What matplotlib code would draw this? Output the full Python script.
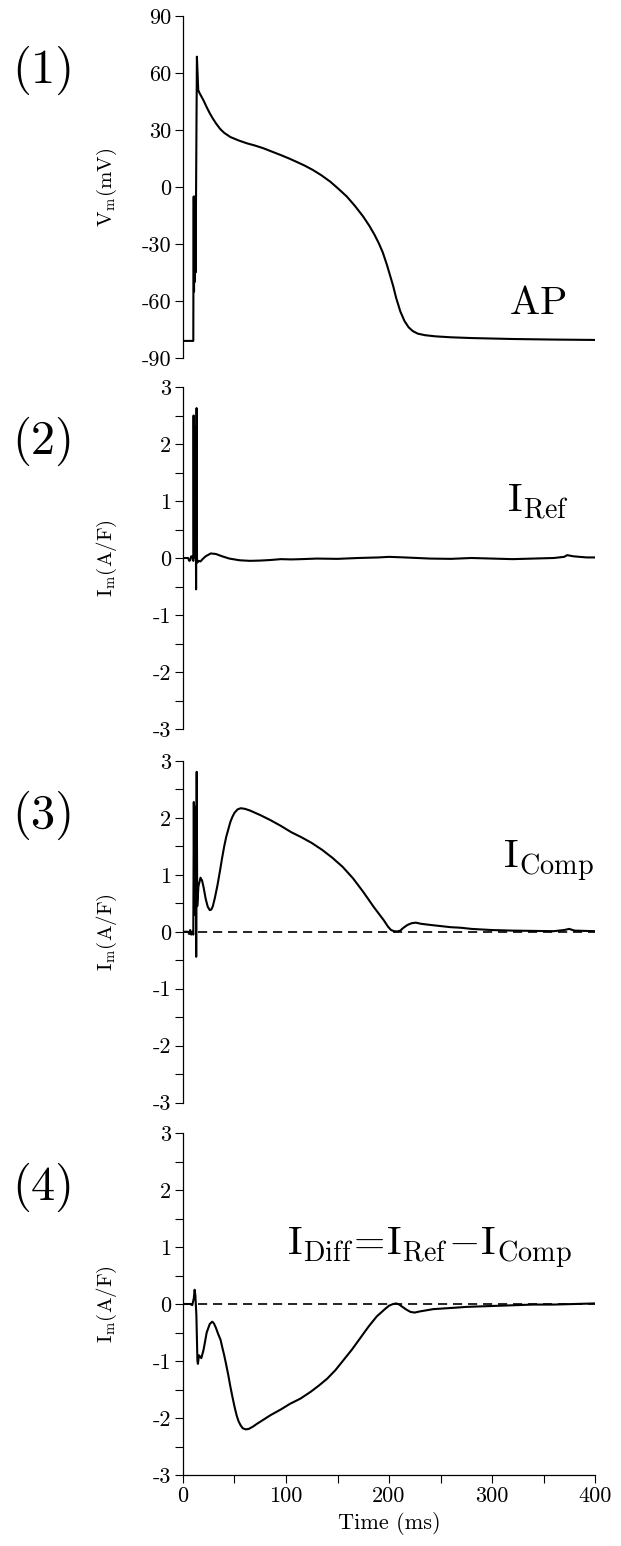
import matplotlib
matplotlib.use("Agg")
import matplotlib.pyplot as plt
from matplotlib.ticker import MultipleLocator, FixedLocator, FixedFormatter

plt.rcParams['font.family'] = 'serif'
plt.rcParams['font.serif'] = ['cmr10']
plt.rcParams['mathtext.fontset'] = 'cm'
plt.rcParams['axes.unicode_minus'] = False
plt.rcParams['axes.formatter.use_mathtext'] = True

# data
t_ap = [0, 10, 10.1, 10.4, 10.7, 11, 11.3, 11.6, 12.2, 13.5, 14.8, 16, 18, 20, 23, 26, 29, 32, 36, 40,
        46, 54, 62, 70, 78, 86, 95, 103, 110, 118, 126, 134, 143, 151, 159, 167, 175, 181, 186, 190,
        194, 198, 201, 204, 207, 211, 215, 219, 223, 228, 235, 245, 260, 280, 320, 360, 400]
v_ap = [-81, -81, -55, -5, -55, -10, -50, -5, -45, 68.6, 51, 49.5, 47.5, 45.5, 42, 38.8, 36, 33.5, 30.6,
        28.5, 26.3, 24.5, 23, 21.8, 20.4, 18.7, 16.8, 15, 13.3, 11.3, 9, 6.3, 2.8, -1, -5, -10, -15.6,
        -20.5, -25.2, -29.5, -34.5, -41, -46.5, -52, -58.5, -65.5, -70.5, -73.8, -75.8, -77.2, -78,
        -78.6, -79.1, -79.5, -80, -80.3, -80.5]

t_ref = [0, 5, 6, 7, 8, 9.5, 10, 10.3, 10.7, 11.2, 11.7, 12.2, 12.7, 13.2, 13.6, 14, 15, 17, 19, 22, 27,
         32, 38, 45, 55, 65, 75, 85, 95, 105, 115, 130, 150, 170, 190, 200, 215, 240, 260, 280, 300,
         320, 340, 360, 370, 373, 376, 379, 385, 392, 400]
i_ref = [0, 0, -0.05, -0.04, 0.03, 0.02, -0.05, 2.5, 0.0, 2.2, 1.4, 2.3, -0.55, 2.63, -0.05, -0.08, -0.05,
         -0.06, -0.02, 0.03, 0.08, 0.07, 0.03, -0.01, -0.04, -0.05, -0.045, -0.035, -0.02, -0.025, -0.02,
         -0.01, -0.015, 0.0, 0.01, 0.02, 0.01, -0.01, -0.015, 0.0, -0.01, -0.02, -0.01, 0.0, 0.02, 0.05,
         0.04, 0.03, 0.02, 0.01, 0.01]

t_comp = [0, 5, 6, 7, 8, 9.5, 10, 10.5, 11, 11.5, 12, 12.5, 12.8, 13.3, 13.8, 15, 17, 18.5, 20, 22, 24,
          26, 27.5, 29, 31, 33.5, 36, 38, 40, 42, 44, 46, 48, 50, 53, 56, 60, 65, 75, 85, 95, 105, 115,
          125, 135, 145, 155, 165, 175, 185, 190, 195, 199, 202, 205, 208, 211, 214, 218, 222, 226, 231,
          240, 250, 260, 270, 280, 290, 300, 320, 340, 360, 370, 375, 380, 390, 400]
i_comp = [0, 0, -0.04, 0.03, -0.05, 0.0, -0.05, 2.28, 0.3, 2.2, 1.3, 2.1, -0.44, 2.81, 0.45, 0.8, 0.95,
          0.9, 0.78, 0.58, 0.44, 0.38, 0.39, 0.45, 0.6, 0.82, 1.08, 1.3, 1.5, 1.67, 1.8, 1.93, 2.02, 2.09,
          2.15, 2.17, 2.16, 2.13, 2.05, 1.96, 1.86, 1.75, 1.66, 1.56, 1.44, 1.3, 1.14, 0.94, 0.7, 0.44,
          0.32, 0.2, 0.09, 0.03, 0.01, 0.005, 0.02, 0.07, 0.12, 0.15, 0.16, 0.14, 0.12, 0.1, 0.08, 0.07,
          0.05, 0.04, 0.03, 0.02, 0.015, 0.01, 0.03, 0.05, 0.02, 0.015, 0.01]

t_diff = [0, 7, 9, 10.5, 11.3, 12, 13, 14, 14.5, 15.5, 17.8, 20, 23, 26, 28.4, 30, 32, 34, 36.5, 38, 40,
          42, 44, 46, 48, 50, 52, 54, 56, 58, 61, 64, 68, 72, 85, 95, 104, 114, 124, 132, 140, 148, 156,
          164, 172, 180, 188, 196, 200, 204, 207, 210, 213, 217, 221, 225, 230, 243, 260, 276, 292, 308,
          324, 340, 360, 380, 400]
i_diff = [0, 0, -0.02, 0.1, 0.25, 0.15, -0.2, -1.0, -1.05, -0.9, -0.95, -0.8, -0.5, -0.35, -0.31, -0.34,
          -0.42, -0.52, -0.63, -0.75, -0.9, -1.07, -1.25, -1.45, -1.63, -1.8, -1.95, -2.06, -2.13, -2.18,
          -2.2, -2.19, -2.15, -2.1, -1.95, -1.85, -1.75, -1.66, -1.54, -1.43, -1.31, -1.16, -0.98, -0.8,
          -0.6, -0.4, -0.22, -0.09, -0.03, 0.0, 0.01, -0.01, -0.05, -0.1, -0.14, -0.15, -0.13, -0.09,
          -0.07, -0.05, -0.04, -0.03, -0.02, -0.01, -0.01, 0.0, 0.01]

panel_tags = ['(1)', '(2)', '(3)', '(4)']
curve_labels = [r'$\mathrm{AP}$', r'$\mathrm{I_{Ref}}$', r'$\mathrm{I_{Comp}}$',
                r'$\mathrm{I_{Diff}\!=\!I_{Ref}\!-\!I_{Comp}}$']
ap_ticks = [-90, -60, -30, 0, 30, 60, 90]
ap_ticklabels = ['-90', '-60', '-30', '0', '30', '60', '90']
i_ticks = [-3, -2, -1, 0, 1, 2, 3]
i_ticklabels = ['-3', '-2', '-1', '0', '1', '2', '3']
t_ticks = [0, 100, 200, 300, 400]
t_ticklabels = ['0', '100', '200', '300', '400']

W, H = 621, 1546
fig = plt.figure(figsize=(W / 100, H / 100), dpi=100)

left = 183 / W
width = (595 - 183) / W
tops = [16, 387, 761, 1133]
bots = [358, 729, 1102.5, 1475]

axes = []
for top, bot in zip(tops, bots):
    ax = fig.add_axes([left, 1 - bot / H, width, (bot - top) / H])
    axes.append(ax)

series = [(t_ap, v_ap), (t_ref, i_ref), (t_comp, i_comp), (t_diff, i_diff)]
label_pos = [(344, -67, 'center'), (315, 0.79, 'left'), (311, 1.12, 'left'), (101, 0.86, 'left')]

for k, ax in enumerate(axes):
    t, y = series[k]
    ax.plot(t, y, color='black', lw=1.5, solid_joinstyle='round')
    if k >= 2:
        ax.plot([0, 400], [0, 0], color='black', lw=1.2, linestyle=(0, (5.5, 3.5)))
    ax.set_xlim(0, 400)
    if k == 0:
        ax.set_ylim(-90, 90)
        ax.yaxis.set_major_locator(FixedLocator(ap_ticks))
        ax.yaxis.set_major_formatter(FixedFormatter(ap_ticklabels))
        ax.set_ylabel(r'$\mathrm{V_m(mV)}$', fontsize=15)
    else:
        ax.set_ylim(-3, 3)
        ax.yaxis.set_major_locator(FixedLocator(i_ticks))
        ax.yaxis.set_major_formatter(FixedFormatter(i_ticklabels))
        ax.yaxis.set_minor_locator(MultipleLocator(0.5))
        ax.set_ylabel(r'$\mathrm{I_m(A/F)}$', fontsize=15)
    ax.yaxis.set_label_coords(-0.155, 0.5)

    for s in ['top', 'right']:
        ax.spines[s].set_visible(False)
    ax.spines['left'].set_linewidth(0.9)
    ax.tick_params(axis='y', which='both', direction='out', length=5.5, width=0.8,
                   labelsize=16, pad=3)
    if k < 3:
        ax.spines['bottom'].set_visible(False)
        ax.tick_params(axis='x', which='both', bottom=False, labelbottom=False)
    else:
        ax.spines['bottom'].set_linewidth(0.9)
        ax.xaxis.set_major_locator(FixedLocator(t_ticks))
        ax.xaxis.set_major_formatter(FixedFormatter(t_ticklabels))
        ax.xaxis.set_minor_locator(MultipleLocator(50))
        ax.tick_params(axis='x', which='both', direction='out', length=5.5, width=0.8,
                       labelsize=16, pad=3)
        ax.set_xlabel('Time (ms)', fontsize=16, labelpad=4)

    lx, ly, ha = label_pos[k]
    ax.text(lx, ly, curve_labels[k], fontsize=29, ha=ha, va='baseline')
    ax.text(-0.338, 0.842, panel_tags[k], fontsize=35, ha='center', va='center',
            transform=ax.transAxes)

fig.savefig('out.png', dpi=100)
